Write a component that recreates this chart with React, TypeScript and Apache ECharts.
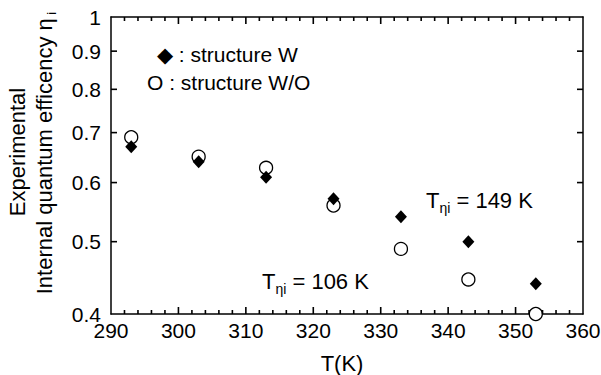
import React, { useEffect, useRef } from 'react';
import * as echarts from 'echarts';

// Data
const temperatures = [293, 303, 313, 323, 333, 343, 353];
const structureW = [0.67, 0.64, 0.61, 0.571, 0.54, 0.5, 0.439];
const structureWO = [0.69, 0.65, 0.628, 0.559, 0.489, 0.445, 0.4];
const yTickValues = [0.4, 0.5, 0.6, 0.7, 0.8, 0.9, 1];
const yTickLabels = ['0.4', '0.5', '0.6', '0.7', '0.8', '0.9', '1'];
const xMajorTicks = [290, 300, 310, 320, 330, 340, 350, 360];
const xMinorStep = 2;

const FONT = '"Liberation Sans", Arial, Helvetica, sans-serif';

export default function App() {
  const ref = useRef<HTMLDivElement>(null);

  useEffect(() => {
    const chart = echarts.init(ref.current!, null, { renderer: 'svg' });

    const baseX = {
      type: 'value',
      min: 290,
      max: 360,
      interval: 10,
      axisLine: { show: true, onZero: false, lineStyle: { color: '#000', width: 1.5 } },
      axisTick: { show: false },
      minorTick: { show: false },
      splitLine: { show: false },
      minorSplitLine: { show: false },
    };
    const baseY = {
      type: 'log',
      logBase: 10,
      min: 0.4,
      max: 1,
      axisLine: { show: true, onZero: false, lineStyle: { color: '#000', width: 1.5 } },
      axisTick: { show: false },
      axisLabel: { show: false },
      splitLine: { show: false },
      minorTick: { show: false },
    };

    chart.setOption({
      animation: false,
      backgroundColor: '#fff',
      grid: {
        left: 111,
        right: 18,
        top: 17,
        bottom: 61,
        show: false,
        containLabel: false,
        outerBoundsMode: 'none',
      },
      xAxis: [
        {
          ...baseX,
          position: 'bottom',
          name: 'T(K)',
          nameLocation: 'middle',
          nameGap: 38,
          nameTextStyle: { fontFamily: FONT, fontSize: 22, color: '#000', padding: [0, 10, 0, 0] },
          axisLabel: {
            fontFamily: FONT,
            fontSize: 21,
            color: '#000',
            margin: 6,
            showMinLabel: true,
            showMaxLabel: true,
          },
        },
        {
          ...baseX,
          position: 'top',
          axisLabel: { show: false },
        },
      ],
      yAxis: [
        { ...baseY, position: 'left' },
        { ...baseY, position: 'right' },
      ],
      series: [
        {
          type: 'scatter',
          name: 'structure W/O',
          data: temperatures.map((t, i) => [t, structureWO[i]]),
          symbol: 'circle',
          symbolSize: 13,
          itemStyle: { color: '#fff', borderColor: '#000', borderWidth: 1.3, opacity: 1 },
          clip: false,
          z: 2,
        },
        {
          type: 'scatter',
          name: 'structure W',
          data: temperatures.map((t, i) => [t, structureW[i]]),
          symbol: 'diamond',
          symbolSize: [12, 13],
          itemStyle: { color: '#000', opacity: 1 },
          clip: false,
          z: 3,
        },
      ],
    });

    const leftPx = chart.convertToPixel({ xAxisIndex: 0 }, 290) as number;
    const rightPx = chart.convertToPixel({ xAxisIndex: 0 }, 360) as number;
    const bottomPx = chart.convertToPixel({ yAxisIndex: 0 }, 0.4) as number;
    const topPx = chart.convertToPixel({ yAxisIndex: 0 }, 1) as number;

    const graphics: any[] = [];
    const tickRect = (x: number, y: number, w: number, h: number) => ({
      type: 'rect',
      z: 20,
      silent: true,
      shape: { x, y, width: w, height: h },
      style: { fill: '#000' },
    });

    // x ticks (major + minor) on bottom and top, pointing inward
    const first = xMajorTicks[0];
    const last = xMajorTicks[xMajorTicks.length - 1];
    for (let t = first + xMinorStep; t < last; t += xMinorStep) {
      const x = chart.convertToPixel({ xAxisIndex: 0 }, t) as number;
      const len = xMajorTicks.indexOf(t) >= 0 ? 7 : 4;
      graphics.push(tickRect(x - 0.8, bottomPx - len, 1.6, len));
      graphics.push(tickRect(x - 0.8, topPx, 1.6, len));
    }

    yTickValues.forEach((v, i) => {
      const y = chart.convertToPixel({ yAxisIndex: 0 }, v) as number;
      graphics.push({
        type: 'text',
        x: leftPx - 10,
        y,
        style: {
          text: yTickLabels[i],
          fontFamily: FONT,
          fontSize: 21,
          fill: '#000',
          align: 'right',
          verticalAlign: 'middle',
        },
      });
      if (i > 0 && i < yTickValues.length - 1) {
        graphics.push(tickRect(leftPx, y - 0.8, 6, 1.6));
        graphics.push(tickRect(rightPx - 6, y - 0.8, 6, 1.6));
      }
    });

    // y-axis title (two rotated lines)
    graphics.push({
      type: 'text',
      x: 17,
      y: 152,
      rotation: Math.PI / 2,
      style: {
        text: 'Experimental',
        fontFamily: FONT,
        fontSize: 22,
        fill: '#000',
        align: 'center',
        verticalAlign: 'middle',
      },
    });
    graphics.push({
      type: 'text',
      x: 44,
      y: 153,
      rotation: Math.PI / 2,
      style: {
        text: '{a|Internal quantum efficency η}{s| i}',
        align: 'center',
        verticalAlign: 'middle',
        rich: {
          a: { fontFamily: FONT, fontSize: 22, fill: '#000', lineHeight: 28, verticalAlign: 'middle' },
          s: { fontFamily: FONT, fontSize: 13, fill: '#000', lineHeight: 14, verticalAlign: 'bottom' },
        },
      },
    });

    // legend-like notes
    graphics.push({
      type: 'text',
      x: 157,
      y: 54,
      style: {
        text: '◆ : structure W',
        fontFamily: FONT,
        fontSize: 21,
        fill: '#000',
        align: 'left',
        verticalAlign: 'middle',
      },
    });
    graphics.push({
      type: 'text',
      x: 147,
      y: 82,
      style: {
        text: 'O : structure W/O',
        fontFamily: FONT,
        fontSize: 21,
        fill: '#000',
        align: 'left',
        verticalAlign: 'middle',
      },
    });

    const annRich = {
      a: { fontFamily: FONT, fontSize: 22, fill: '#000', lineHeight: 30, verticalAlign: 'middle' },
      s: { fontFamily: FONT, fontSize: 14, fill: '#000', lineHeight: 14, verticalAlign: 'bottom' },
    };
    graphics.push({
      type: 'text',
      x: 426,
      y: 200,
      style: {
        text: '{a|T}{s|ηi}{a| = 149 K}',
        align: 'left',
        verticalAlign: 'middle',
        rich: annRich,
      },
    });
    graphics.push({
      type: 'text',
      x: 262,
      y: 281,
      style: {
        text: '{a|T}{s|ηi}{a| = 106 K}',
        align: 'left',
        verticalAlign: 'middle',
        rich: annRich,
      },
    });

    chart.setOption({ graphic: graphics });

    return () => {
      chart.dispose();
    };
  }, []);

  return (
    <div
      ref={ref}
      style={{ position: 'absolute', left: 0, top: 0, width: 601, height: 375 }}
    />
  );
}
